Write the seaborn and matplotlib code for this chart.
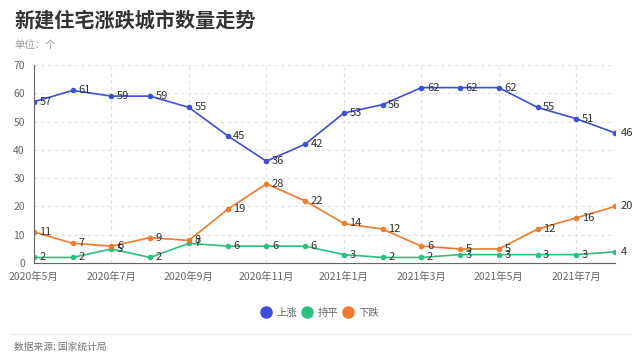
import pandas as pd
import seaborn as sns
import matplotlib.pyplot as plt
from matplotlib.lines import Line2D

months = ["2020年5月", "2020年6月", "2020年7月", "2020年8月", "2020年9月", "2020年10月",
          "2020年11月", "2020年12月", "2021年1月", "2021年2月", "2021年3月", "2021年4月",
          "2021年5月", "2021年6月", "2021年7月", "2021年8月"]
rise = [57, 61, 59, 59, 55, 45, 36, 42, 53, 56, 62, 62, 62, 55, 51, 46]
flat = [2, 2, 5, 2, 7, 6, 6, 6, 3, 2, 2, 3, 3, 3, 3, 4]
fall = [11, 7, 6, 9, 8, 19, 28, 22, 14, 12, 6, 5, 5, 12, 16, 20]
series_names = ["上涨", "持平", "下跌"]
colors = ["#3c4fdb", "#2bc17c", "#f07b2c"]

sns.set_style("white")
plt.rcParams['font.family'] = ['Noto Sans CJK SC', 'DejaVu Sans']

rows = []
for name, vals in zip(series_names, [rise, flat, fall]):
    for i, v in enumerate(vals):
        rows.append({"idx": i, "value": v, "series": name})
df = pd.DataFrame(rows)

fig = plt.figure(figsize=(6.4, 3.57), dpi=100)
ax = fig.add_axes([0.053, 0.263, 0.908, 0.555])

sns.lineplot(data=df, x="idx", y="value", hue="series", hue_order=series_names,
             palette=colors, marker="o", markersize=4, markeredgewidth=0,
             linewidth=1.2, legend=False, ax=ax)

# value labels sit just right of each point
for name, vals in zip(series_names, [rise, flat, fall]):
    for i, v in enumerate(vals):
        ax.annotate(str(v), (i, v), xytext=(4, 0), textcoords="offset points",
                    ha="left", va="center", fontsize=8, color="#333333")

ax.set_xlim(0, len(months) - 1)
ax.set_ylim(0, 70)
ax.set_yticks(range(0, 71, 10))
ax.set_xticks(range(0, len(months), 2))
ax.set_xticklabels(months[::2])
ax.set_xlabel("")
ax.set_ylabel("")
ax.tick_params(axis="both", labelsize=7.5, colors="#666666", length=3, width=0.8)
ax.yaxis.grid(True, linestyle=(0, (3, 3)), color="#e0e0e0", linewidth=0.8)
ax.xaxis.grid(True, linestyle=(0, (3, 3)), color="#e0e0e0", linewidth=0.8)
for s in ["top", "right"]:
    ax.spines[s].set_visible(False)
ax.spines["left"].set_color("#666666")
ax.spines["bottom"].set_color("#666666")
ax.spines["left"].set_linewidth(0.8)
ax.spines["bottom"].set_linewidth(0.8)

fig.text(0.022, 0.945, "新建住宅涨跌城市数量走势", fontsize=14.5, fontweight="bold",
         color="#333333", va="center")
fig.text(0.022, 0.873, "单位：个", fontsize=7.5, color="#999999", va="center")

handles = [Line2D([], [], marker="o", linestyle="", markersize=8, color=c) for c in colors]
fig.legend(handles, series_names, loc="center", bbox_to_anchor=(0.5, 0.123), ncol=3,
           frameon=False, fontsize=7.5, labelcolor="#666666", handletextpad=0.5,
           columnspacing=0.4, handlelength=1.0)

fig.add_artist(Line2D([0.016, 0.984], [0.064, 0.064], color="#eeeeee", linewidth=1))
fig.text(0.022, 0.028, "数据来源: 国家统计局", fontsize=7, color="#777777", va="center")

fig.savefig("out.png", dpi=100)
